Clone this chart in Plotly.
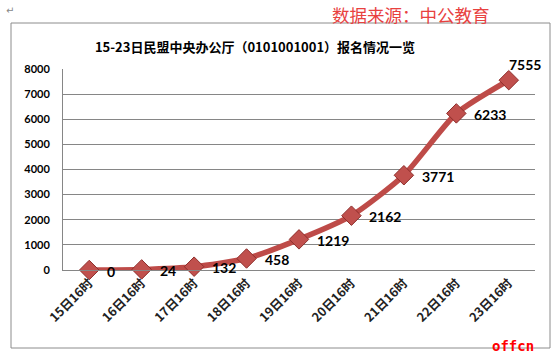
import plotly.graph_objects as go

categories = ["15日16时", "16日16时", "17日16时", "18日16时", "19日16时",
              "20日16时", "21日16时", "22日16时", "23日16时"]
values = [0, 24, 132, 458, 1219, 2162, 3771, 6233, 7555]
value_labels = [str(v) for v in values]
title_text = "15-23日民盟中央办公厅（0101001001）报名情况一览"
source_text = "数据来源：中公教育"

W, H = 558, 358
L, R, T, B = 63, 23, 69, 88
pw, ph = W - L - R, H - T - B

def px(x):
    return (x - L) / pw

def py(y):
    return (H - B - y) / ph

num_font = "Lato, 'DejaVu Sans', sans-serif"
cjk_font = "'Noto Sans CJK SC', sans-serif"

fig = go.Figure()
fig.add_trace(go.Scatter(
    x=categories, y=values,
    mode="lines+markers",
    line=dict(color="#BE4B48", width=5.5, shape="spline", smoothing=0.6),
    marker=dict(symbol="diamond", size=15, color="#C0504D",
                line=dict(color="#8E2E2B", width=1)),
    cliponaxis=False,
    hoverinfo="skip",
))

label_font = dict(family=num_font, size=14, color="#000000", weight="bold")
annotations = []
n = len(values)
for i, (c, v, t) in enumerate(zip(categories, values, value_labels)):
    last = i == n - 1
    annotations.append(dict(
        x=c, y=v, text=t, showarrow=False,
        xanchor="center" if last else "left", yanchor="middle",
        xshift=16 if last else 16, yshift=16 if last else -1,
        font=label_font,
    ))

annotations += [
    dict(text=source_text, xref="paper", yref="paper",
         x=px(411), y=py(15), xanchor="center", yanchor="middle",
         showarrow=False,
         font=dict(family=cjk_font, size=17.5, color="#E8413F")),
    dict(text="<b>offcn</b>", xref="paper", yref="paper",
         x=px(513), y=py(346), xanchor="center", yanchor="middle",
         showarrow=False,
         font=dict(family="'DejaVu Sans Mono', monospace", size=14, color="#FF0000")),
    dict(text="↵", xref="paper", yref="paper",
         x=px(10), y=py(11), xanchor="center", yanchor="middle",
         showarrow=False,
         font=dict(family="'DejaVu Sans', sans-serif", size=10, color="#888888")),
]

fig.update_layout(
    width=W, height=H,
    margin=dict(l=L, r=R, t=T, b=B, autoexpand=False),
    paper_bgcolor="white", plot_bgcolor="white",
    showlegend=False,
    title=dict(text="<b>" + title_text + "</b>", x=255 / W, xanchor="center",
               y=1 - 47 / H, yanchor="middle",
               font=dict(family=cjk_font, size=13, color="#000000")),
    xaxis=dict(type="category", tickangle=-45, showgrid=False,
               showline=True, linecolor="#868686", linewidth=1,
               ticks="", range=[-0.5, 8.5], automargin=False,
               tickfont=dict(family=cjk_font, size=12.5, color="#222222", weight="bold")),
    yaxis=dict(range=[0, 8000], dtick=1000, showgrid=True, gridcolor="#868686",
               gridwidth=1, showline=True, linecolor="#868686", linewidth=1,
               zeroline=False, ticks="", ticklabelstandoff=10, automargin=False,
               tickfont=dict(family=num_font, size=11, color="#000000", weight="bold")),
    shapes=[dict(type="rect", xref="paper", yref="paper",
                 x0=px(11), x1=px(550), y0=py(348), y1=py(23),
                 line=dict(color="#8C8C8C", width=1), layer="below")],
    annotations=annotations,
)

fig.write_html("out.html", config={"displayModeBar": False},
               post_script="document.body.style.margin='0';document.body.style.overflow='hidden';")
